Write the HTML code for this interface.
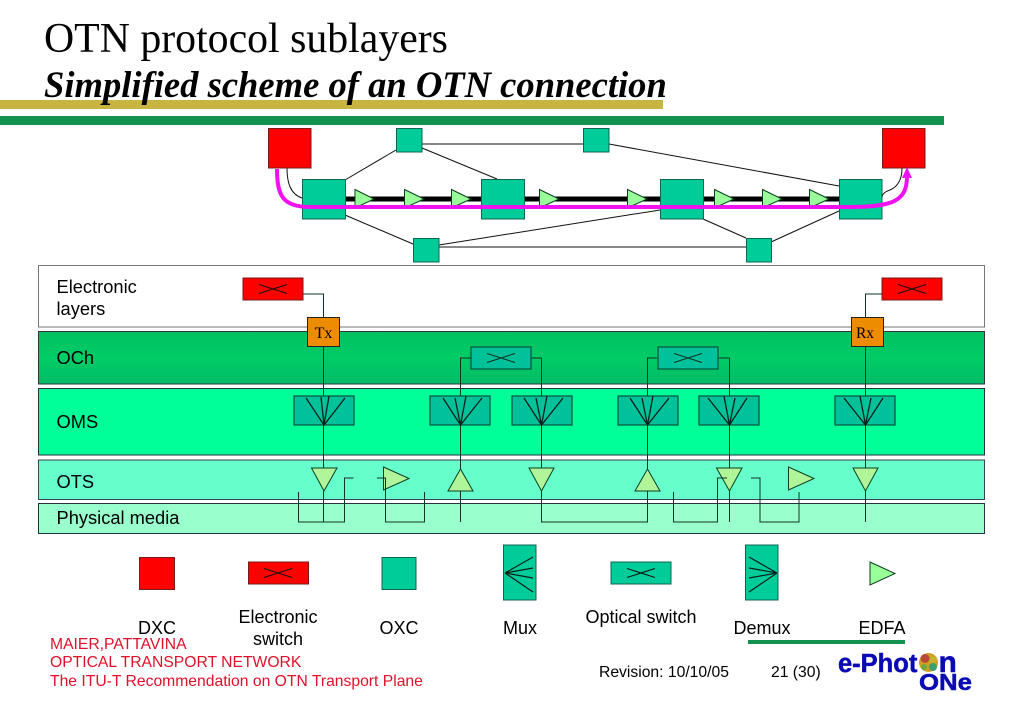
<!DOCTYPE html>
<html><head><meta charset="utf-8"><style>
html,body{margin:0;padding:0;background:#fff}
svg{display:block}
text{font-family:"Liberation Sans",sans-serif;fill:#000}
.s{font-family:"Liberation Serif",serif}
.g{fill:#00cc99;stroke:#0f6650;stroke-width:1}
.r{fill:#ff0000;stroke:#7a1a1a;stroke-width:1}
.t{fill:#99ff99;stroke:#0a3d20;stroke-width:1}
.l{fill:none;stroke:#113322;stroke-width:1}
.n{fill:none;stroke:#111;stroke-width:1}
.m{fill:#00c29a;stroke:#0c4f3c;stroke-width:1.2}
.c{fill:#ee8c00;stroke:#222;stroke-width:1}
.red{fill:#e0102a;font-size:15.7px}
.b{fill:#0a0ab4;stroke:#0a0ab4;stroke-width:.5;font-weight:bold}
</style></head><body>
<svg width="1023" height="708" viewBox="0 0 1023 708" xmlns="http://www.w3.org/2000/svg">
<defs><linearGradient id="och" x1="0" y1="0" x2="0" y2="1"><stop offset="0" stop-color="#00c060"/><stop offset=".5" stop-color="#00cc66"/><stop offset="1" stop-color="#00bb66"/></linearGradient></defs>
<rect x="0" y="100" width="663" height="9" fill="#c8b440"/>
<rect x="0" y="116" width="944" height="9" fill="#13914f"/>
<text class="s" x="44" y="52" font-size="41.800">OTN protocol sublayers</text>
<text class="s" x="44" y="97" font-size="36.600" font-weight="bold" font-style="italic">Simplified scheme of an OTN connection</text>

<!-- top network -->
<g class="n">
<path d="M345 180L396 150M422 148L497 179M422 144H583M609 144L839 186M345 215L413 244M439 245L660 210M439 247H746M703 219L746 238M771 242L839 211"/>
<path d="M287 168C287 182 290 194 302 198M902 168C902 180 897 187 890 190C885 192 883 193 882 197"/>
</g>
<rect x="345" y="196.500" width="494" height="5" fill="#000"/>
<rect class="r" x="268.500" y="128.500" width="42.500" height="39.500"/>
<rect class="r" x="882.500" y="128.500" width="42.500" height="39.500"/>
<rect class="g" x="396.500" y="128.500" width="25.500" height="23.500"/>
<rect class="g" x="583.500" y="128.500" width="25.500" height="23.500"/>
<rect class="g" x="413.500" y="238.500" width="25.500" height="23.500"/>
<rect class="g" x="746.500" y="238.500" width="25" height="23.500"/>
<rect class="g" x="302.500" y="179.500" width="43" height="39.500"/>
<rect class="g" x="481.500" y="179.500" width="43" height="39.500"/>
<rect class="g" x="660.500" y="179.500" width="43" height="39.500"/>
<rect class="g" x="839.500" y="179.500" width="42.500" height="39.500"/>
<g class="t">
<path d="M355 189.500L374 199L355 208ZM404.500 189.500L424 199L404.500 208ZM451.500 189.500L471 199L451.500 208ZM539.500 189.500L559 199L539.500 208ZM627.500 189.500L647 199L627.500 208ZM714.500 189.500L734 199L714.500 208ZM762.500 189.500L782 199L762.500 208ZM809.500 189.500L829 199L809.500 208Z"/>
</g>
<path d="M277 169C277 196 283 207 310 207H850C895 207 907 200 907 176" fill="none" stroke="#f010f0" stroke-width="4"/>
<path d="M902 178L907 167L912 178Z" fill="#f010f0"/>

<!-- bands -->
<rect x="38.500" y="265.500" width="946" height="61.500" fill="#fff" stroke="#777" stroke-width="1"/>
<rect x="38.500" y="331.500" width="946" height="52.500" fill="url(#och)" stroke="#334" stroke-width="1"/>
<rect x="38.500" y="388.500" width="946" height="66.500" fill="#00ff99" stroke="#234" stroke-width="1"/>
<rect x="38.500" y="460" width="946" height="39.500" fill="#66ffcc" stroke="#345" stroke-width="1"/>
<rect x="38.500" y="503.500" width="946" height="30" fill="#99ffcc" stroke="#234" stroke-width="1"/>
<g font-size="18.300">
<text x="56.500" y="293">Electronic</text>
<text x="56.500" y="315">layers</text>
<text x="56.500" y="364">OCh</text>
<text x="56.500" y="428">OMS</text>
<text x="56.500" y="488">OTS</text>
<text x="56.500" y="524">Physical media</text>
</g>

<!-- connectors -->
<g class="l">
<path d="M303.500 294H323.500V317M323.500 346V468M323.500 491V522"/>
<path d="M298.500 492V522H344.500V478H353.500"/>
<path d="M377 478H385.500V522H424.500V492"/>
<path d="M460.500 396V358H471M531 358H541.500V396M460.500 425V470M541.500 425V468"/>
<path d="M460.500 491V522"/>
<path d="M541.500 491V522H647.500V491"/>
<path d="M647.500 396V358H658M718 358H729.500V396M647.500 425V470M729.500 425V468"/>
<path d="M673.500 492V522H717.500V478H727"/>
<path d="M729.500 491V522"/>
<path d="M751 478H760V522H799V492"/>
<path d="M882 294H865.500V317M865.500 346V468M865.500 491V522"/>
</g>

<!-- orange -->
<rect class="c" x="307.500" y="317.500" width="32" height="29"/>
<text class="s" x="323.500" y="338" font-size="16" text-anchor="middle">Tx</text>
<rect class="c" x="851.500" y="317.500" width="32" height="29"/>
<text class="s" x="865" y="338" font-size="15.500" text-anchor="middle">Rx</text>

<!-- electronic switches -->
<rect class="r" x="243" y="278" width="60" height="22"/>
<rect class="r" x="882" y="278" width="60" height="22"/>
<path class="n" d="M259 284.500L287 293.500M259 293.500L287 284.500M898 284.500L926 293.500M898 293.500L926 284.500"/>
<!-- optical switches -->
<rect class="m" x="471" y="347" width="60" height="22"/>
<rect class="m" x="658" y="347" width="60" height="22"/>
<path class="l" d="M487 353.500L515 362.500M487 362.500L515 353.500M674 353.500L702 362.500M674 362.500L702 353.500"/>

<!-- mux boxes -->
<g class="m">
<rect x="294" y="396" width="60" height="29"/>
<rect x="430" y="396" width="60" height="29"/>
<rect x="512" y="396" width="60" height="29"/>
<rect x="618" y="396" width="60" height="29"/>
<rect x="699" y="396" width="60" height="29"/>
<rect x="835" y="396" width="60" height="29"/>
</g>
<g fill="none" stroke="#06201a" stroke-width="1.300">
<path d="M306 398L324 425L345 398M321 397L324 425L329 396"/>
<path d="M443 398L460.500 425L482 398M455 398L460.500 425L466 396"/>
<path d="M524 398L541.500 425L563 398M536 398L541.500 425L547 396"/>
<path d="M630 398L647.500 425L669 398M642 398L647.500 425L653 396"/>
<path d="M708 398L729.500 425L747 398M724 396L729.500 425L735 398"/>
<path d="M844 398L865.500 425L883 398M860 396L865.500 425L871 398"/>
</g>

<!-- triangles -->
<g class="t">
<path style="fill:#b0f59a" d="M311.500 468H337L324 491Z"/>
<path style="fill:#b0f59a" d="M383.500 467L409 478.500L383.500 490Z"/>
<path style="fill:#b0f59a" d="M460.500 469L473 491H448Z"/>
<path style="fill:#b0f59a" d="M529 468H554L541.500 491Z"/>
<path style="fill:#b0f59a" d="M647.500 469L660 491H635Z"/>
<path style="fill:#b0f59a" d="M716.500 468H742L729.500 491Z"/>
<path style="fill:#b0f59a" d="M788.500 467L814 478.500L788.500 490Z"/>
<path style="fill:#b0f59a" d="M853 468H878L865.500 491Z"/>
</g>
<path class="l" d="M377 478H385.500V490M717.500 478H727"/>

<!-- legend -->
<rect class="r" x="139.500" y="557.500" width="35" height="32"/>
<rect class="r" x="248.500" y="562" width="60" height="22"/>
<path class="n" d="M264 568.500L292 577.500M264 577.500L292 568.500"/>
<rect class="g" x="382" y="557.500" width="34" height="32"/>
<rect class="g" x="503.500" y="545" width="32.500" height="55"/>
<path d="M505 573L533 557M505 573L533 568M505 573L533 578M505 573L533 592" fill="none" stroke="#06201a" stroke-width="1.200"/>
<rect class="g" x="611" y="562" width="60" height="22"/>
<path class="n" d="M627 568.500L655 577.500M627 577.500L655 568.500"/>
<rect class="g" x="745.500" y="545" width="32.500" height="55"/>
<path d="M777 573L749 557M777 573L749 568M777 573L749 578M777 573L749 592" fill="none" stroke="#06201a" stroke-width="1.200"/>
<path class="t" d="M870 562L895 573.500L870 585Z"/>

<g font-size="18">
<text x="157" y="634" text-anchor="middle">DXC</text>
<text x="278" y="623" text-anchor="middle">Electronic</text>
<text x="278" y="645" text-anchor="middle">switch</text>
<text x="399" y="634" text-anchor="middle">OXC</text>
<text x="520" y="634" text-anchor="middle">Mux</text>
<text x="641" y="623" text-anchor="middle">Optical switch</text>
<text x="762" y="634" text-anchor="middle">Demux</text>
<text x="882" y="634" text-anchor="middle">EDFA</text>
</g>
<rect x="748" y="640" width="157" height="4" fill="#13914f"/>

<text class="red" x="50" y="649">MAIER,PATTAVINA</text>
<text class="red" x="50" y="667">OPTICAL TRANSPORT NETWORK</text>
<text class="red" x="50" y="686">The ITU-T Recommendation on OTN Transport Plane</text>
<text x="599" y="677" font-size="15.700">Revision: 10/10/05</text>
<text x="771" y="677" font-size="15.700">21 (30)</text>

<!-- logo -->
<text class="b" x="838" y="672" font-size="25.500">e-Phot</text>
<circle cx="928.500" cy="662.500" r="9.500" fill="#d0a020"/>
<circle cx="925" cy="658.500" r="4.500" fill="#b84a3a"/>
<circle cx="933" cy="660" r="3.500" fill="#c8b030"/>
<circle cx="933" cy="667" r="4" fill="#3aa070"/>
<circle cx="924" cy="667" r="3" fill="#70a840"/>
<text class="b" x="938.500" y="672" font-size="30">n</text>
<text class="b" x="919" y="690" font-size="23" textLength="53" lengthAdjust="spacingAndGlyphs">ONe</text>
</svg>
</body></html>
